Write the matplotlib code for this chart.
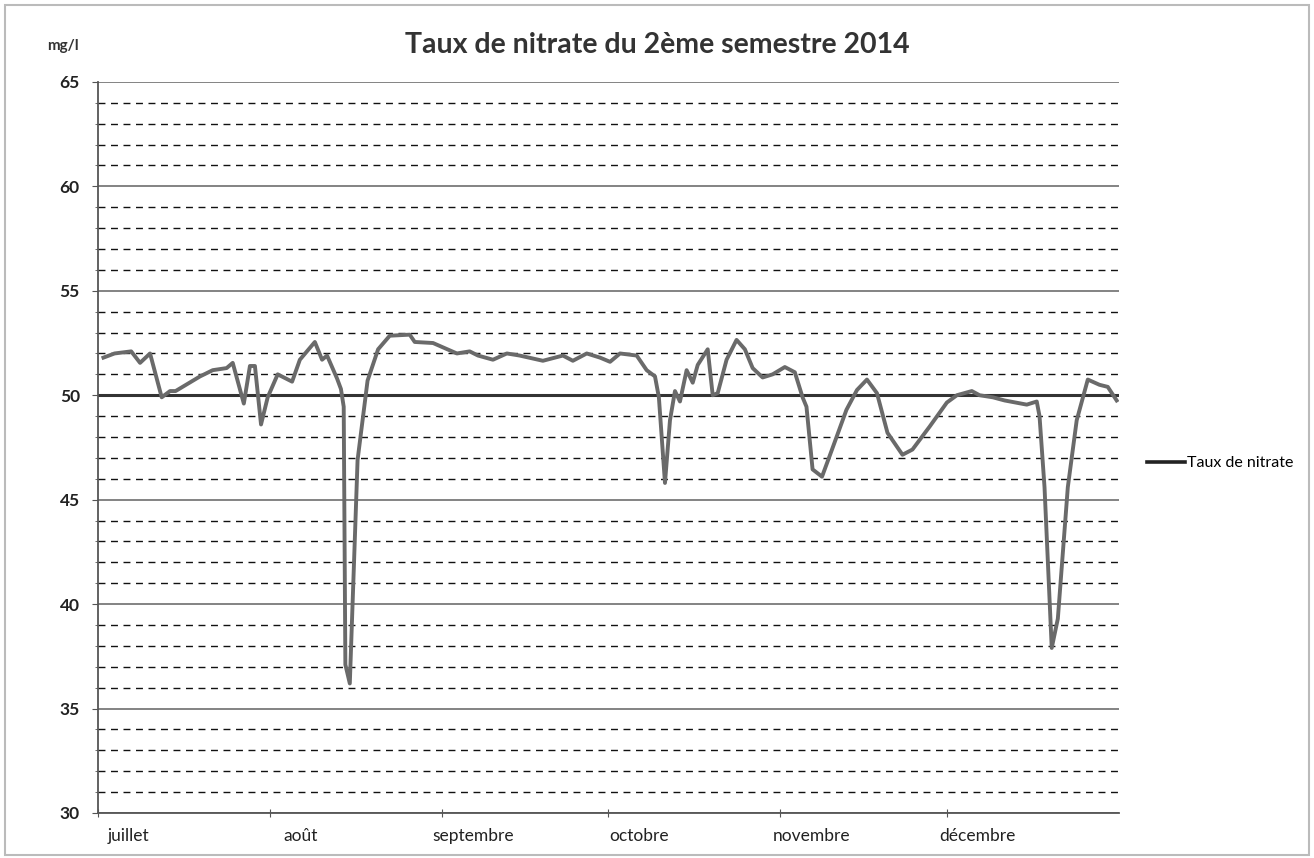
import matplotlib
matplotlib.use("Agg")
import matplotlib.pyplot as plt
from matplotlib.ticker import MultipleLocator, FixedLocator, NullFormatter
from matplotlib.patches import Rectangle

plt.rcParams['font.family'] = ['Lato', 'DejaVu Sans']

# jours depuis le 1er juillet 2014 (mg/l)
days = [1, 3, 6, 7.6, 9.4, 11.5, 13, 14, 18.4, 20.7, 23.2, 24.3, 26.3, 27.4, 28.3,
        29.4, 30.6, 32.4, 35, 36.4, 39.1, 40.4, 41.3, 43.1, 43.8, 44.3, 44.6, 45.4,
        46.8, 48.6, 50.5, 52.6, 56.2, 57.1, 60.4, 64.7, 67, 68.5, 71.2, 73.7, 76,
        80.2, 83.8, 85.6, 88.1, 90.5, 92.3, 94.1, 97.1, 98.9, 100.4, 101.1, 102.2,
        103.1, 104, 104.9, 106.1, 107.2, 108.1, 109.9, 110.8, 111.7, 113.3, 115.1,
        116.6, 118, 119.8, 121.6, 123.8, 125.6, 127, 127.7, 128.8, 130.5, 132.3,
        134.9, 136.8, 138.6, 140.4, 142.3, 145, 146.8, 149.9, 153, 154.8, 157.5,
        158.9, 161.3, 163.4, 167.4, 169.2, 169.7, 170.6, 171.9, 173, 174.8, 176.4,
        178.4, 180.5, 182, 183.6]
nitrate = [51.8, 52.0, 52.1, 51.55, 52.0, 49.9, 50.2, 50.2, 50.9, 51.2, 51.3, 51.55,
           49.6, 51.4, 51.4, 48.6, 49.9, 51.0, 50.65, 51.7, 52.55, 51.7, 51.9, 50.8,
           50.3, 49.45, 37.1, 36.2, 46.9, 50.7, 52.2, 52.85, 52.9, 52.55, 52.5, 52.0,
           52.1, 51.9, 51.7, 52.0, 51.9, 51.65, 51.9, 51.65, 52.0, 51.8, 51.6, 52.0,
           51.9, 51.2, 50.9, 49.9, 45.8, 48.8, 50.2, 49.7, 51.2, 50.6, 51.45, 52.2,
           50.0, 50.1, 51.7, 52.65, 52.2, 51.3, 50.85, 51.0, 51.35, 51.1, 49.9, 49.45,
           46.45, 46.1, 47.4, 49.3, 50.25, 50.75, 50.1, 48.2, 47.15, 47.4, 48.5, 49.65,
           50.0, 50.2, 50.0, 49.9, 49.75, 49.55, 49.7, 49.0, 45.6, 37.9, 39.3, 45.6,
           48.8, 50.75, 50.5, 50.4, 49.75]
seuil = 50

months = ['juillet', 'août', 'septembre', 'octobre', 'novembre', 'décembre']
month_start = [0, 31, 62, 92, 123, 153]
n_days = 184

fig = plt.figure(figsize=(13.14, 8.58), dpi=100)
ax = fig.add_axes([0.0745, 0.0525, 0.777, 0.852])

ax.set_xlim(0, n_days)
ax.set_ylim(30, 65)

ax.yaxis.set_major_locator(MultipleLocator(5))
ax.yaxis.set_minor_locator(MultipleLocator(1))
ax.grid(which='major', axis='y', color='#7a7a7a', linewidth=1.3, linestyle='-')
ax.grid(which='minor', axis='y', color='#111111', linewidth=1.0, linestyle=(0, (5, 4)))
ax.set_axisbelow(True)

ax.axhline(seuil, color='#333333', linewidth=2.2, zorder=2)
ax.plot(days, nitrate, color='#6a6a6a', linewidth=2.8, zorder=3, label='Taux de nitrate')

# ticks aux débuts de mois, étiquettes décalées
ax.xaxis.set_major_locator(FixedLocator(month_start))
ax.xaxis.set_major_formatter(NullFormatter())
ax.xaxis.set_minor_locator(FixedLocator([m + 5.6 for m in month_start]))
ax.set_xticklabels(months, minor=True)
ax.tick_params(axis='x', which='major', direction='inout', length=6, color='#555555')
ax.tick_params(axis='x', which='minor', length=0, labelsize=12.5, pad=11, colors='#222222')
ax.tick_params(axis='y', which='major', direction='out', length=4, labelsize=12.5,
               color='#555555', labelcolor='#222222', pad=9)
ax.tick_params(axis='y', which='minor', direction='out', length=2, color='#555555')
for lab in ax.get_yticklabels():
    lab.set_fontweight('bold')

for s in ['top', 'right']:
    ax.spines[s].set_visible(False)
ax.spines['left'].set_color('#555555')
ax.spines['bottom'].set_color('#555555')
ax.spines['left'].set_linewidth(1.3)
ax.spines['bottom'].set_linewidth(1.3)

fig.text(0.50, 0.948, 'Taux de nitrate du 2ème semestre 2014', ha='center', va='center',
         fontsize=20.5, fontweight='bold', color='#333333')
fig.text(0.036, 0.946, 'mg/l', ha='left', va='center', fontsize=11, fontweight='bold',
         color='#333333')

leg = fig.legend(loc='center left', bbox_to_anchor=(0.862, 0.460), frameon=False,
                 fontsize=11.5, handlelength=2.4, handletextpad=0.1)
leg.get_lines()[0].set_color('#222222')
leg.get_lines()[0].set_linewidth(2.6)

fig.patches.append(Rectangle((0.004, 0.004), 0.992, 0.99, transform=fig.transFigure,
                             fill=False, edgecolor='#bbbbbb', linewidth=1.5))

fig.savefig('out.png', dpi=100)
